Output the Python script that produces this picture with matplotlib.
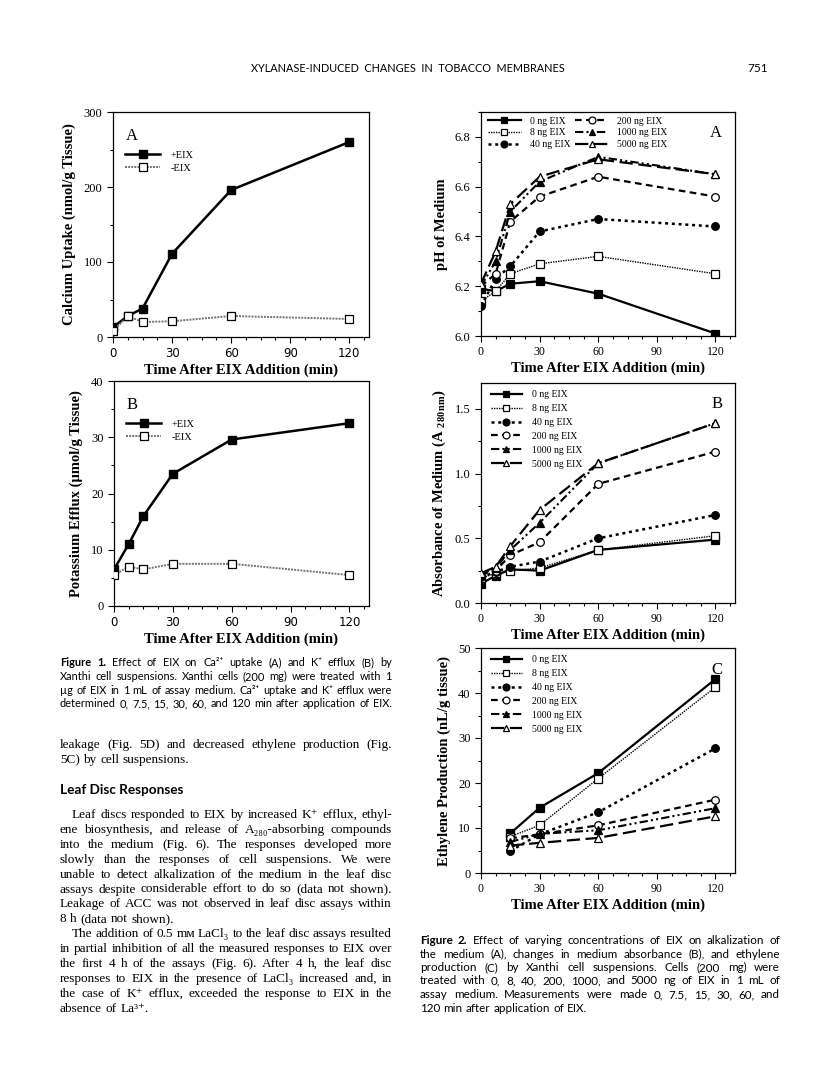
import matplotlib
matplotlib.use('Agg')
import matplotlib.pyplot as plt
from matplotlib.ticker import MultipleLocator

plt.rcParams['mathtext.fontset'] = 'custom'
plt.rcParams['mathtext.rm'] = 'Liberation Serif:bold'
plt.rcParams['mathtext.default'] = 'rm'

W, H, DPI = 816, 1073, 100
SERIF = ['Liberation Serif', 'DejaVu Serif']
SANS = ['Lato', 'DejaVu Sans']

# Figure 1 data
t1 = [0, 7.5, 15, 30, 60, 120]
ca_plus = [13, 28, 38, 111, 196, 260]
ca_minus = [8, 28, 20, 21, 28, 24]
k_plus = [6.5, 11, 16, 23.5, 29.6, 32.5]
k_minus = [5.5, 7, 6.5, 7.5, 7.5, 5.5]
fig1_labels = ['+EIX', '-EIX']

# Figure 2 data
doses = ['0 ng EIX', '8 ng EIX', '40 ng EIX', '200 ng EIX', '1000 ng EIX', '5000 ng EIX']
t2 = [0, 7.5, 15, 30, 60, 120]
t2c = [15, 30, 60, 120]
ph = [
    [6.19, 6.18, 6.21, 6.22, 6.17, 6.01],
    [6.14, 6.18, 6.25, 6.29, 6.32, 6.25],
    [6.12, 6.23, 6.28, 6.42, 6.47, 6.44],
    [6.20, 6.25, 6.46, 6.56, 6.64, 6.56],
    [6.20, 6.30, 6.50, 6.62, 6.72, 6.65],
    [6.21, 6.34, 6.53, 6.64, 6.71, 6.65],
]
absorb = [
    [0.15, 0.21, 0.26, 0.25, 0.41, 0.49],
    [0.19, 0.23, 0.25, 0.27, 0.41, 0.52],
    [0.20, 0.24, 0.28, 0.32, 0.50, 0.68],
    [0.22, 0.25, 0.37, 0.47, 0.92, 1.17],
    [0.22, 0.27, 0.41, 0.62, 1.08, 1.39],
    [0.23, 0.28, 0.44, 0.72, 1.08, 1.39],
]
ethylene = [
    [8.8, 14.5, 22.2, 43.1],
    [8.1, 10.6, 21.0, 41.3],
    [4.9, 8.6, 13.5, 27.7],
    [7.7, 8.6, 10.6, 16.3],
    [6.9, 8.7, 9.5, 14.4],
    [6.1, 6.7, 7.8, 12.6],
]

# line styles for the six doses
styles = [
    dict(ls='-', lw=1.6, marker='s', mfc='black'),
    dict(ls=(0, (1, 0.8)), lw=1.0, marker='s', mfc='white'),
    dict(ls=(0, (1.2, 1.5)), lw=1.8, marker='o', mfc='black'),
    dict(ls=(0, (3, 2)), lw=1.6, marker='o', mfc='white'),
    dict(ls=(0, (4, 1.5, 1, 1.5, 1, 1.5)), lw=1.5, marker='^', mfc='black'),
    dict(ls=(0, (6, 2.5)), lw=1.6, marker='^', mfc='white'),
]

fig = plt.figure(figsize=(W / DPI, H / DPI), dpi=DPI)
fig.patch.set_facecolor('white')


def px_axes(l, t, r, b):
    return fig.add_axes([l / W, 1 - b / H, (r - l) / W, (b - t) / H])


def style_axes(ax, ymaj, ymin, xfont):
    ax.set_xlim(0, 130)
    ax.xaxis.set_major_locator(MultipleLocator(30))
    ax.xaxis.set_minor_locator(MultipleLocator(7.5))
    ax.yaxis.set_major_locator(MultipleLocator(ymaj))
    ax.yaxis.set_minor_locator(MultipleLocator(ymin))
    ax.tick_params(which='both', direction='out', width=0.8, top=False, right=False)
    ax.tick_params(which='major', length=4)
    ax.tick_params(which='minor', length=2.5)
    for s in ax.spines.values():
        s.set_linewidth(0.9)
    for lab in ax.get_xticklabels():
        lab.set_family(xfont)
        lab.set_fontsize(8.5)
    for lab in ax.get_yticklabels():
        lab.set_family(SERIF)
        lab.set_fontsize(9)


# ---- Figure 1A / 1B
for box, plus, minus, ymax, ymaj, ylab, letter in [
        ((113, 112, 369, 337), ca_plus, ca_minus, 300, 100, 'Calcium Uptake (nmol/g Tissue)', 'A'),
        ((114, 381, 369, 606), k_plus, k_minus, 40, 10, 'Potassium Efflux (\u00b5mol/g Tissue)', 'B')]:
    ax = px_axes(*box)
    ax.plot(t1, plus, color='black', lw=1.8, marker='s', ms=6, mfc='black', mec='black',
            label=fig1_labels[0], zorder=3)
    ax.plot(t1, minus, color='0.45', ls=(0, (1, 0.6)), lw=1.4, marker='s', ms=6, mfc='white',
            mec='black', mew=0.9, label=fig1_labels[1], zorder=3)
    ax.set_ylim(0, ymax)
    style_axes(ax, ymaj, ymaj / 2, ['DejaVu Sans'])
    ax.set_ylabel(ylab, family=SERIF, fontweight='bold', fontsize=10.5, labelpad=6)
    ax.set_xlabel('Time After EIX Addition (min)', family=SERIF, fontweight='bold',
                  fontsize=10.5, labelpad=2)
    ax.text(0.05, 0.93, letter, transform=ax.transAxes, family=SERIF, fontsize=12,
            va='top', ha='left')
    ax.legend(loc='upper left', bbox_to_anchor=(0.02, 0.86), frameon=False,
              prop={'family': SERIF, 'size': 7.5}, handlelength=3.3, handletextpad=1.0,
              labelspacing=0.35, numpoints=1, borderpad=0.2, markerscale=0.9)

# ---- Figure 2A / 2B / 2C
panels = [
    ((481, 112, 735, 336), t2, ph, (6.0, 6.9), 0.2, 0.1, 'pH of Medium', 'A'),
    ((481, 383, 735, 603), t2, absorb, (0, 1.7), 0.5, 0.25,
     'Absorbance of Medium (A $_{280\\,nm}$)', 'B'),
    ((481, 648, 735, 873), t2c, ethylene, (0, 50), 10, 5,
     'Ethylene Production (nL/g tissue)', 'C'),
]
for box, tx, series, ylim, ymaj, ymin, ylab, letter in panels:
    ax = px_axes(*box)
    for vals, st, name in zip(series, styles, doses):
        ax.plot(tx, vals, color='black', ls=st['ls'], lw=st['lw'], marker=st['marker'],
                ms=5.5, mfc=st['mfc'], mec='black', mew=0.9, label=name, zorder=3)
    ax.set_ylim(*ylim)
    style_axes(ax, ymaj, ymin, SERIF)
    ax.set_ylabel(ylab, family=SERIF, fontweight='bold', fontsize=10.5, labelpad=5)
    ax.set_xlabel('Time After EIX Addition (min)', family=SERIF, fontweight='bold',
                  fontsize=10.5, labelpad=2)
    ax.text(0.95, 0.94, letter, transform=ax.transAxes, family=SERIF, fontsize=12,
            va='top', ha='right')
    if letter == 'A':
        ax.legend(loc='upper left', bbox_to_anchor=(0.0, 1.01), ncol=2, frameon=False,
                  prop={'family': SERIF, 'size': 7}, handlelength=3.4, handletextpad=0.9,
                  labelspacing=0.3, columnspacing=0.5, numpoints=1, borderpad=0.2,
                  markerscale=0.9)
    else:
        ax.legend(loc='upper left', bbox_to_anchor=(0.01, 1.0), frameon=False,
                  prop={'family': SERIF, 'size': 7}, handlelength=3.2, handletextpad=1.0,
                  labelspacing=0.5, numpoints=1, borderpad=0.25, markerscale=0.9)

# ---- page text
renderer = fig.canvas.get_renderer()


def text_line(x0, x1, y, s, size, family, justify=True, bold_words=0, indent=0, weight='normal'):
    words = s.split(' ')
    objs = []
    for i, w in enumerate(words):
        wt = 'bold' if i < bold_words else weight
        objs.append(fig.text(0, 0, w, fontsize=size, family=family, fontweight=wt,
                             va='baseline', ha='left'))
    widths = [o.get_window_extent(renderer).width for o in objs]
    space = size * 0.27 * DPI / 72
    if justify and len(words) > 1:
        gap = max((x1 - x0 - indent - sum(widths)) / (len(words) - 1), 2.0)
    else:
        gap = space
    x = x0 + indent
    for o, w in zip(objs, widths):
        o.set_position((x / W, 1 - y / H))
        x += w + gap


def paragraph(x0, x1, y0, step, lines, size, family, bold_words=0, indent_first=0):
    for i, s in enumerate(lines):
        last = i == len(lines) - 1
        text_line(x0, x1, y0 + i * step, s, size, family, justify=not last,
                  bold_words=bold_words if i == 0 else 0,
                  indent=indent_first if i == 0 else 0)


fig.text(408 / W, 1 - 72 / H, 'XYLANASE-INDUCED  CHANGES  IN  TOBACCO  MEMBRANES',
         family=SANS, fontsize=7.8, ha='center', va='baseline')
fig.text(768 / W, 1 - 72 / H, '751', family=SANS, fontsize=8.5, ha='right', va='baseline')

cap1 = [
    'Figure 1. Effect of EIX on Ca\u00b2\u207a uptake (A) and K\u207a efflux (B) by',
    'Xanthi cell suspensions. Xanthi cells (200 mg) were treated with 1',
    '\u00b5g of EIX in 1 mL of assay medium. Ca\u00b2\u207a uptake and K\u207a efflux were',
    'determined 0, 7.5, 15, 30, 60, and 120 min after application of EIX.',
]
for i, s in enumerate(cap1):
    text_line(60, 392, 666 + i * 13.8, s, 7.9, SANS, justify=True, bold_words=2 if i == 0 else 0)

cap2 = [
    'Figure 2. Effect of varying concentrations of EIX on alkalization of',
    'the medium (A), changes in medium absorbance (B), and ethylene',
    'production (C) by Xanthi cell suspensions. Cells (200 mg) were',
    'treated with 0, 8, 40, 200, 1000, and 5000 ng of EIX in 1 mL of',
    'assay medium. Measurements were made 0, 7.5, 15, 30, 60, and',
    '120 min after application of EIX.',
]
paragraph(420, 780, 944, 13.5, cap2, 8.4, SANS, bold_words=2)

body1 = [
    'leakage (Fig. 5D) and decreased ethylene production (Fig.',
    '5C) by cell suspensions.',
]
paragraph(60, 392, 748, 14.8, body1, 9.5, SERIF)

fig.text(60 / W, 1 - 794 / H, 'Leaf Disc Responses', family=SANS, fontsize=9.8,
         fontweight='bold', va='baseline')

body2 = [
    'Leaf discs responded to EIX by increased K\u207a efflux, ethyl-',
    'ene biosynthesis, and release of A\u2082\u2088\u2080-absorbing compounds',
    'into the medium (Fig. 6). The responses developed more',
    'slowly than the responses of cell suspensions. We were',
    'unable to detect alkalization of the medium in the leaf disc',
    'assays despite considerable effort to do so (data not shown).',
    'Leakage of ACC was not observed in leaf disc assays within',
    '8 h (data not shown).',
]
paragraph(60, 392, 818, 14.9, body2, 9.5, SERIF, indent_first=12)

body3 = [
    'The addition of 0.5 m\u1d0d LaCl\u2083 to the leaf disc assays resulted',
    'in partial inhibition of all the measured responses to EIX over',
    'the first 4 h of the assays (Fig. 6). After 4 h, the leaf disc',
    'responses to EIX in the presence of LaCl\u2083 increased and, in',
    'the case of K\u207a efflux, exceeded the response to EIX in the',
    'absence of La\u00b3\u207a.',
]
paragraph(60, 392, 937, 14.9, body3, 9.5, SERIF, indent_first=12)

fig.savefig('out.png', dpi=DPI, facecolor='white')
